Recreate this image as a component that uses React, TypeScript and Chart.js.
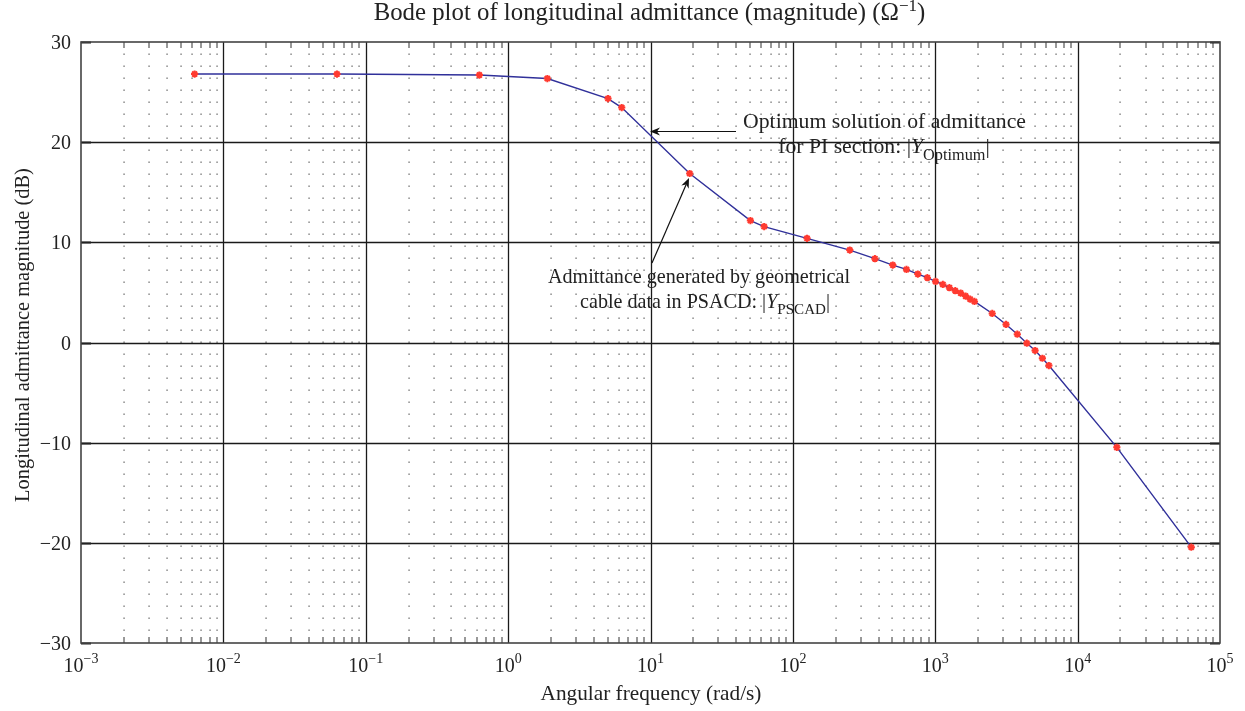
import React, { useEffect, useRef } from "react";
import { Chart, registerables } from "chart.js";

Chart.register(...registerables);

// Angular frequency (rad/s)
const omega = [
  0.00628, 0.0628, 0.628, 1.885, 5.03, 6.28, 18.85, 50.3, 62.8, 125.7, 251, 377,
  503, 628, 754, 880, 1005, 1131, 1257, 1382, 1508, 1634, 1759, 1885, 2513, 3142,
  3770, 4398, 5027, 5655, 6283, 18850, 62830,
];
// |Y_PSCAD| in dB (red stars)
const magPSCAD = [
  26.8, 26.8, 26.7, 26.35, 24.35, 23.45, 16.87, 12.17, 11.57, 10.4, 9.23, 8.37,
  7.73, 7.3, 6.83, 6.47, 6.1, 5.8, 5.47, 5.17, 4.93, 4.63, 4.33, 4.1, 2.9, 1.8,
  0.83, -0.07, -0.8, -1.57, -2.3, -10.47, -20.43,
];
// |Y_Optimum| in dB (blue line)
const magOptimum = [
  26.8, 26.8, 26.7, 26.35, 24.35, 23.45, 16.87, 12.17, 11.57, 10.4, 9.23, 8.37,
  7.73, 7.3, 6.83, 6.47, 6.1, 5.8, 5.47, 5.17, 4.93, 4.63, 4.33, 4.1, 2.9, 1.8,
  0.83, -0.07, -0.8, -1.57, -2.3, -10.47, -20.43,
];
const xDecades = [-3, -2, -1, 0, 1, 2, 3, 4, 5];
const yTicks = [30, 20, 10, 0, -10, -20, -30];

const FONT = "'Liberation Serif', 'DejaVu Serif', serif";
const TXT = "#222";

type Part = { t: string; size: number; dy?: number; italic?: boolean };

function fontOf(p: Part, s: number) {
  return `${p.italic ? "italic " : ""}${(p.size * s).toFixed(2)}px ${FONT}`;
}
function widthOf(ctx: CanvasRenderingContext2D, parts: Part[], s: number) {
  let w = 0;
  for (const p of parts) {
    ctx.font = fontOf(p, s);
    w += ctx.measureText(p.t).width;
  }
  return w;
}
function drawParts(
  ctx: CanvasRenderingContext2D,
  parts: Part[],
  x: number,
  y: number,
  align: "left" | "center" | "right",
  s = 1
) {
  const w = widthOf(ctx, parts, s);
  let cx = align === "left" ? x : align === "center" ? x - w / 2 : x - w;
  ctx.textAlign = "left";
  ctx.textBaseline = "alphabetic";
  for (const p of parts) {
    ctx.font = fontOf(p, s);
    ctx.fillText(p.t, cx, y + (p.dy || 0) * s);
    cx += ctx.measureText(p.t).width;
  }
}
function fitScale(ctx: CanvasRenderingContext2D, parts: Part[], target: number) {
  return target / widthOf(ctx, parts, 1);
}
function arrow(ctx: CanvasRenderingContext2D, x0: number, y0: number, x1: number, y1: number) {
  const a = Math.atan2(y1 - y0, x1 - x0);
  const L = 10, H = 4;
  ctx.save();
  ctx.strokeStyle = "#111";
  ctx.fillStyle = "#111";
  ctx.lineWidth = 1.2;
  ctx.beginPath();
  ctx.moveTo(x0, y0);
  ctx.lineTo(x1 - Math.cos(a) * L * 0.7, y1 - Math.sin(a) * L * 0.7);
  ctx.stroke();
  ctx.beginPath();
  ctx.moveTo(x1, y1);
  ctx.lineTo(x1 - Math.cos(a) * L + Math.sin(a) * H, y1 - Math.sin(a) * L - Math.cos(a) * H);
  ctx.lineTo(x1 - Math.cos(a) * L * 0.7, y1 - Math.sin(a) * L * 0.7);
  ctx.lineTo(x1 - Math.cos(a) * L - Math.sin(a) * H, y1 - Math.sin(a) * L + Math.cos(a) * H);
  ctx.closePath();
  ctx.fill();
  ctx.restore();
}

const gridPlugin = {
  id: "bodeGrid",
  beforeDatasetsDraw(chart: any) {
    const ctx: CanvasRenderingContext2D = chart.ctx;
    const xs = chart.scales.x, ys = chart.scales.y;
    const { left, right, top, bottom } = chart.chartArea;
    ctx.save();
    // minor dotted vertical lines
    ctx.fillStyle = "#555";
    for (let e = -3; e < 5; e++) {
      for (let m = 2; m <= 9; m++) {
        const px = Math.round(xs.getPixelForValue(m * Math.pow(10, e)));
        for (let y = top + 12; y < bottom - 2; y += 12) {
          ctx.fillRect(px - 0.5, Math.round(y) - 0.5, 1.1, 1.4);
        }
        // minor ticks
        ctx.strokeStyle = "#333";
        ctx.lineWidth = 1;
        ctx.beginPath();
        ctx.moveTo(px, bottom);
        ctx.lineTo(px, bottom - 6);
        ctx.moveTo(px, top);
        ctx.lineTo(px, top + 6);
        ctx.stroke();
      }
    }
    // major grid
    ctx.strokeStyle = "#1a1a1a";
    ctx.lineWidth = 1.3;
    ctx.beginPath();
    for (const e of xDecades) {
      if (e === -3 || e === 5) continue;
      const px = Math.round(xs.getPixelForValue(Math.pow(10, e))) + 0.5;
      ctx.moveTo(px, top);
      ctx.lineTo(px, bottom);
    }
    for (const v of yTicks) {
      if (v === 30 || v === -30) continue;
      const py = Math.round(ys.getPixelForValue(v)) + 0.5;
      ctx.moveTo(left, py);
      ctx.lineTo(right, py);
    }
    ctx.stroke();
    // y major ticks (thicker)
    ctx.lineWidth = 2.2;
    ctx.strokeStyle = "#222";
    ctx.beginPath();
    for (const v of yTicks) {
      const py = Math.round(ys.getPixelForValue(v)) + 0.5;
      ctx.moveTo(left, py);
      ctx.lineTo(left + 10, py);
      ctx.moveTo(right, py);
      ctx.lineTo(right - 10, py);
    }
    ctx.stroke();
    // border
    ctx.strokeStyle = "#444";
    ctx.lineWidth = 1.6;
    ctx.strokeRect(left, top, right - left, bottom - top);
    ctx.restore();
  },
  afterDraw(chart: any) {
    const ctx: CanvasRenderingContext2D = chart.ctx;
    const xs = chart.scales.x, ys = chart.scales.y;
    const { left, right, top, bottom } = chart.chartArea;
    ctx.save();
    ctx.fillStyle = TXT;
    // x tick labels
    for (const e of xDecades) {
      const px = xs.getPixelForValue(Math.pow(10, e));
      const exp = e < 0 ? "\u2212" + Math.abs(e) : String(e);
      drawParts(ctx, [{ t: "10", size: 20 }, { t: exp, size: 14, dy: -9 }], px, 672, "center");
    }
    // y tick labels
    for (const v of yTicks) {
      const py = ys.getPixelForValue(v);
      const s = v < 0 ? "\u2212" + Math.abs(v) : String(v);
      drawParts(ctx, [{ t: s, size: 20 }], 71, py + 7, "right");
    }
    // title
    const title: Part[] = [
      { t: "Bode plot of longitudinal admittance (magnitude) (\u03A9", size: 16 },
      { t: "\u22121", size: 11, dy: -6 },
      { t: ")", size: 16 },
    ];
    drawParts(ctx, title, (left + right) / 2 - 1, 20, "center", fitScale(ctx, title, 552));
    // x title
    const xt: Part[] = [{ t: "Angular frequency (rad/s)", size: 20 }];
    drawParts(ctx, xt, 651, 700, "center", fitScale(ctx, xt, 221));
    // y title
    const yt: Part[] = [{ t: "Longitudinal admittance magnitude (dB)", size: 20 }];
    ctx.save();
    ctx.translate(29, 335);
    ctx.rotate(-Math.PI / 2);
    drawParts(ctx, yt, 0, 0, "center", fitScale(ctx, yt, 334));
    ctx.restore();

    // annotations
    const a1: Part[] = [{ t: "Optimum solution of admittance", size: 20 }];
    const s1 = fitScale(ctx, a1, 283);
    drawParts(ctx, a1, 884.5, 128, "center", s1);
    const a1b: Part[] = [
      { t: "for PI section: |", size: 20 },
      { t: "Y", size: 20, italic: true },
      { t: "Optimum", size: 15, dy: 6 },
      { t: "|", size: 20 },
    ];
    drawParts(ctx, a1b, 884, 153, "center", s1);
    const a2: Part[] = [{ t: "Admittance generated by geometrical", size: 20 }];
    const s2 = fitScale(ctx, a2, 302);
    drawParts(ctx, a2, 699, 283, "center", s2);
    const a2b: Part[] = [
      { t: "cable data in PSACD: |", size: 20 },
      { t: "Y", size: 20, italic: true },
      { t: "PSCAD", size: 15, dy: 6 },
      { t: "|", size: 20 },
    ];
    drawParts(ctx, a2b, 705, 308, "center", s2);

    arrow(ctx, 736, 131.5, 650, 131.5);
    arrow(ctx, 652, 263, 689, 178);
    ctx.restore();
  },
};

export default function App() {
  const ref = useRef<HTMLCanvasElement | null>(null);
  useEffect(() => {
    if (!ref.current) return;
    const lineData = omega.map((x, i) => ({ x, y: magOptimum[i] }));
    const ptData = omega.map((x, i) => ({ x, y: magPSCAD[i] }));
    const chart = new Chart(ref.current, {
      type: "line",
      data: {
        datasets: [
          {
            label: "PSCAD",
            data: ptData,
            showLine: false,
            pointStyle: "star",
            pointRadius: 3.6,
            pointBorderWidth: 2,
            pointBorderColor: "#ff3a30",
            pointBackgroundColor: "#ff3a30",
            order: 0,
          },
          {
            label: "Optimum",
            data: lineData,
            borderColor: "#30309a",
            borderWidth: 1.4,
            pointRadius: 0,
            tension: 0,
            order: 1,
          },
        ],
      },
      options: {
        animation: false,
        responsive: false,
        maintainAspectRatio: false,
        devicePixelRatio: 1,
        layout: { padding: { left: 81, top: 42, right: 25, bottom: 68 } },
        plugins: { legend: { display: false }, tooltip: { enabled: false }, title: { display: false } },
        scales: {
          x: { type: "logarithmic", min: 1e-3, max: 1e5, display: false },
          y: { type: "linear", min: -30, max: 30, display: false },
        },
      },
      plugins: [gridPlugin],
    });
    return () => chart.destroy();
  }, []);
  return (
    <div style={{ position: "fixed", left: 0, top: 0, width: 1245, height: 711, background: "#fff" }}>
      <canvas ref={ref} width={1245} height={711} style={{ width: 1245, height: 711, display: "block" }} />
    </div>
  );
}
